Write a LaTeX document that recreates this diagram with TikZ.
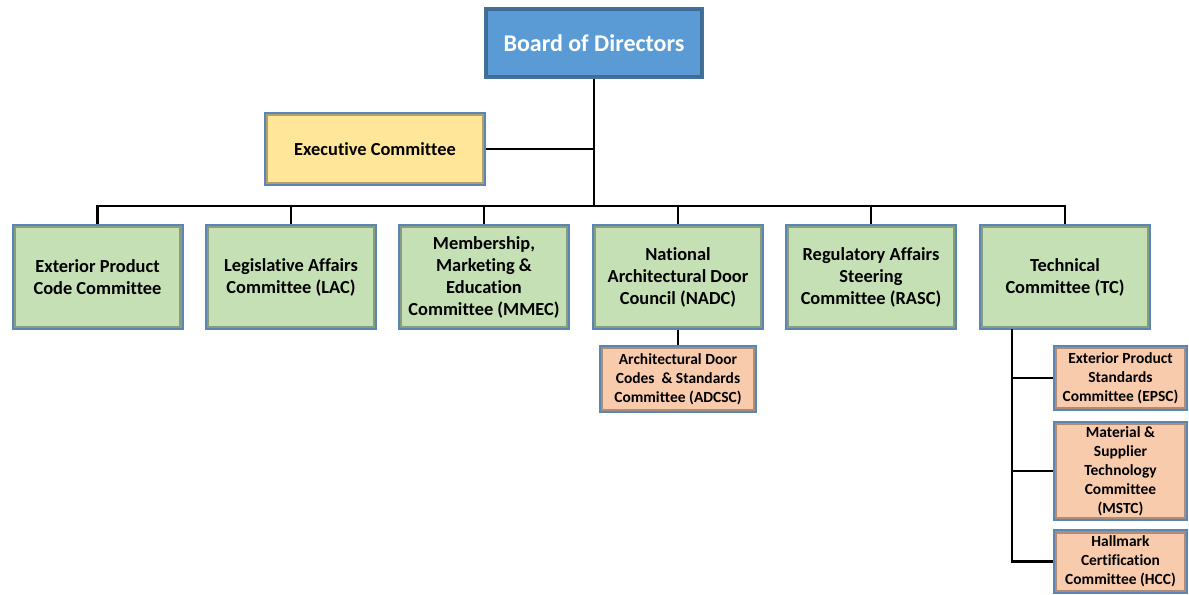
\documentclass[tikz,border=0pt]{standalone}
\usepackage{fontspec}
\setmainfont{Carlito}[Ligatures=NoCommon]
\definecolor{boardfill}{HTML}{5B9BD5}
\definecolor{boardedge}{HTML}{41719C}
\definecolor{execfill}{HTML}{FFE699}
\definecolor{commfill}{HTML}{C5E0B4}
\definecolor{subfill}{HTML}{F8CBAD}
\definecolor{boxedge}{HTML}{5A86B6}
\tikzset{
  box/.style={draw=boxedge, line width=1.5pt, align=center, inner sep=0pt,
    path picture={\draw[black, opacity=0.3, line width=5pt]
      (path picture bounding box.south west) rectangle (path picture bounding box.north east);}},
  board/.style={box, fill=boardfill, draw=boardedge, text=white,
    minimum width=163.5pt, minimum height=52.5pt, font=\fontsize{18}{21}\selectfont\bfseries},
  execbox/.style={box, fill=execfill, minimum width=165pt, minimum height=54pt,
    font=\fontsize{13.8}{16.5}\selectfont\bfseries},
  comm/.style={box, fill=commfill, minimum width=127.5pt, minimum height=78pt,
    font=\fontsize{13.8}{16.5}\selectfont\bfseries},
  sub/.style={box, fill=subfill, minimum width=100pt,
    font=\fontsize{11.6}{14.2}\selectfont\bfseries},
  link/.style={draw=black, line width=1.6pt}
}
\begin{document}
\begin{tikzpicture}[x=0.75pt, y=-0.75pt]
  \useasboundingbox (0,0) rectangle (1189,594);
  \node[board] (bod) at (594,43) {Board of Directors};
  \node[execbox] (exec) at (375,149) {Executive Committee};
  \coordinate (bus) at (594,206);
  % committees
  \node[comm] (epcc) at (97.5,277) {Exterior Product\\Code Committee};
  \node[comm] (lac) at (291,277) {Legislative Affairs\\Committee (LAC)};
  \node[comm] (mmec) at (484,277) {Membership,\\Marketing \&\\Education\\Committee (MMEC)};
  \node[comm] (nadc) at (678,277) {National\\Architectural Door\\Council (NADC)};
  \node[comm] (rasc) at (871,277) {Regulatory Affairs\\Steering\\Committee (RASC)};
  \node[comm] (tc) at (1065,277) {Technical\\Committee (TC)};
  % subcommittees
  \node[sub, minimum width=117pt, minimum height=49.5pt] (adcsc) at (678,379)
    {Architectural Door\\Codes \ \& Standards\\Committee (ADCSC)};
  \node[sub, minimum height=48pt] (epsc) at (1120.5,378) {Exterior Product\\Standards\\Committee (EPSC)};
  \node[sub, minimum height=73.5pt] (mstc) at (1120.5,471) {Material \&\\Supplier\\Technology\\Committee\\(MSTC)};
  \node[sub, minimum height=47pt] (hcc) at (1120.5,561.5) {Hallmark\\Certification\\Committee (HCC)};
  \coordinate (tcx) at (1012,329);
  \begin{scope}[link]
    \draw (bod) -- (bus);
    \draw (exec.east) -- (exec.east -| bus);
    \draw (epcc.north) |- (bus);
    \draw (lac.north) |- (bus);
    \draw (mmec.north) |- (bus);
    \draw (nadc.north) |- (bus);
    \draw (rasc.north) |- (bus);
    \draw (tc.north) |- (bus);
    \draw (nadc) -- (adcsc);
    \draw (tcx) |- (hcc.west);
    \draw (tcx |- epsc.west) -- (epsc.west);
    \draw (tcx |- mstc.west) -- (mstc.west);
  \end{scope}
\end{tikzpicture}
\end{document}
